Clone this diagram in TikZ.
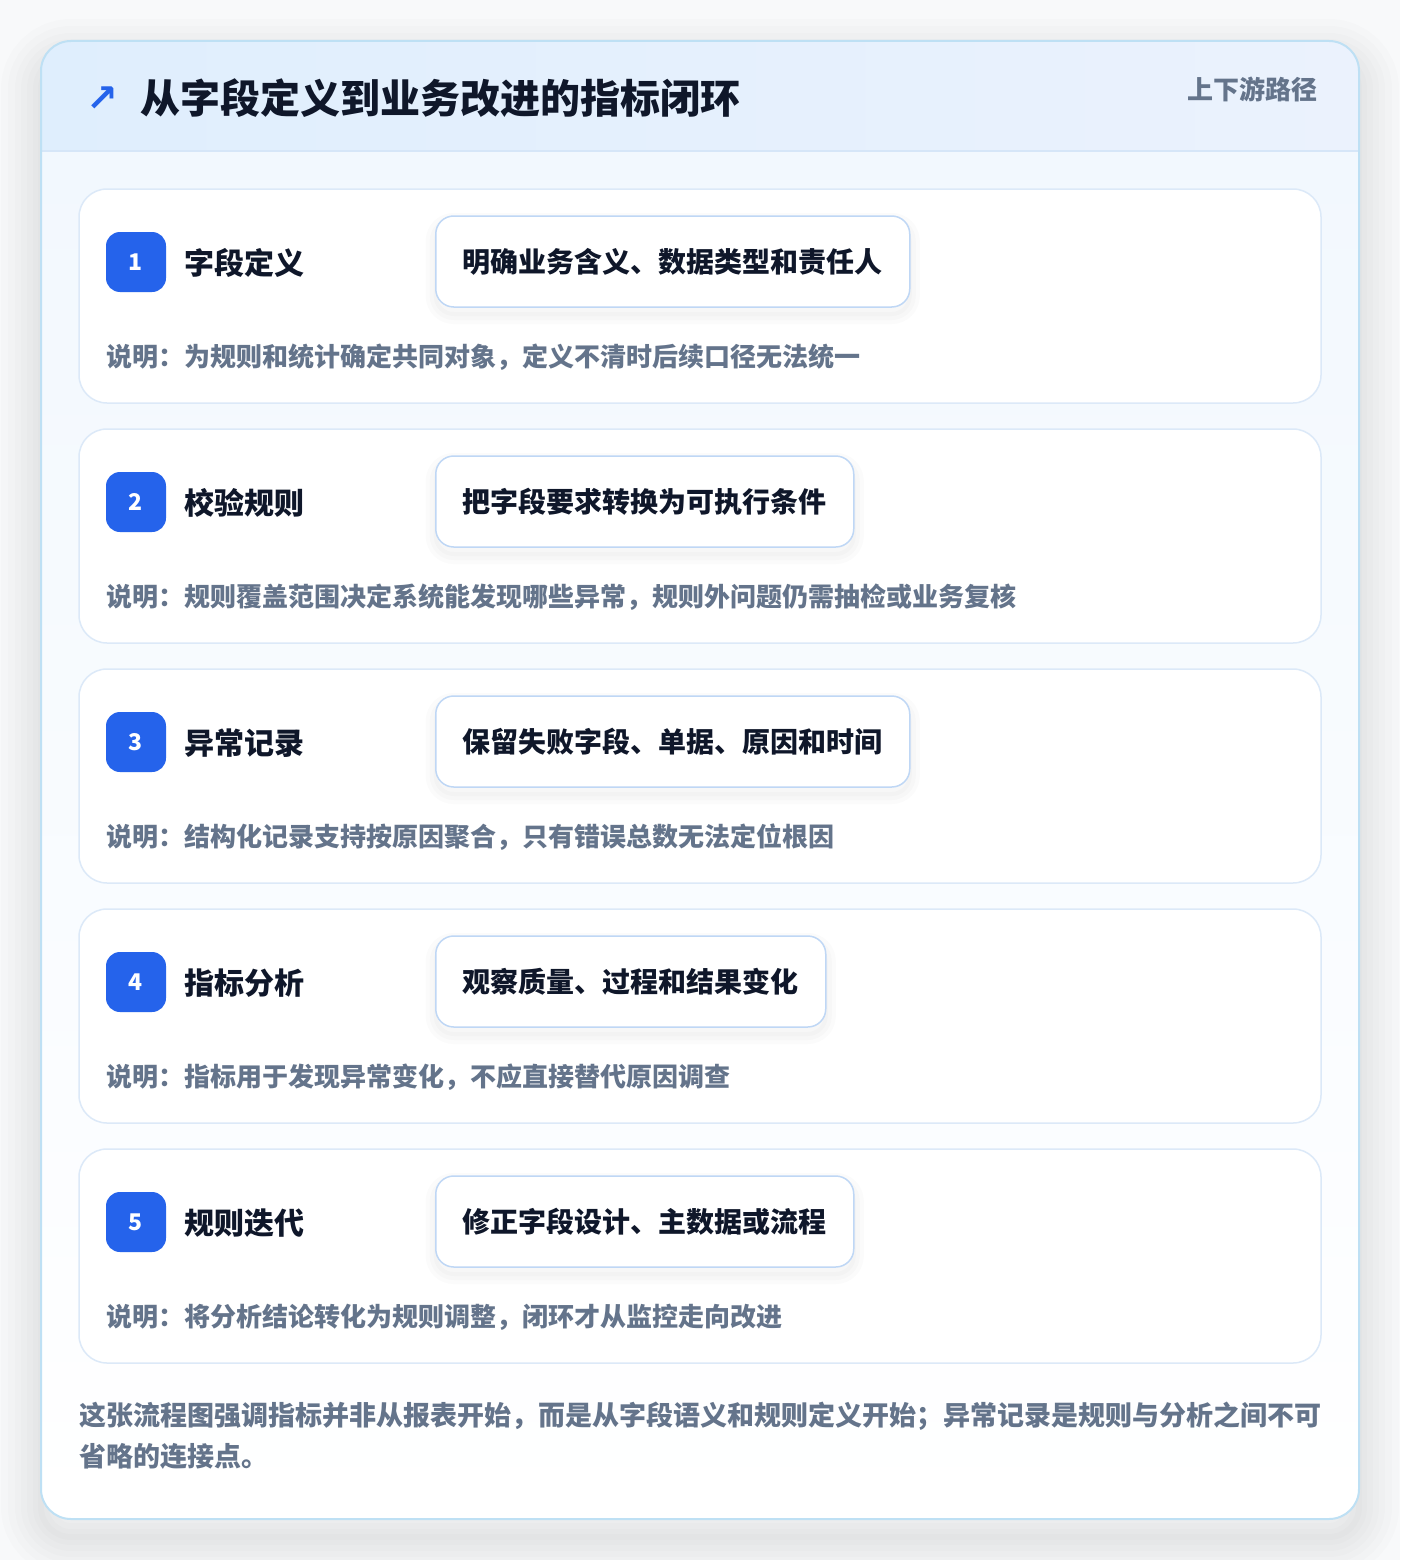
\documentclass[tikz,border=0pt]{standalone}
\usepackage{fontspec}
\setmainfont{Noto Sans CJK SC}
\newfontfamily\symfont{DejaVu Sans}

\definecolor{pagebg}{HTML}{F8F9FA}
\definecolor{accent}{HTML}{2563EB}
\definecolor{ink}{HTML}{0F172A}
\definecolor{muted}{HTML}{64748B}
\definecolor{frameline}{HTML}{BEE0F4}
\definecolor{headleft}{HTML}{DFEEFD}
\definecolor{headright}{HTML}{EBF2FD}
\definecolor{headsep}{HTML}{D6E6F8}
\definecolor{bodytop}{HTML}{F2F8FE}
\definecolor{cardline}{HTML}{DCE9F8}
\definecolor{pillline}{HTML}{BFD7F5}

\tikzset{
  shadowring/.style={preaction={draw=black, draw opacity=0.011, line width=#1,
    transform canvas={yshift=-18pt}}},
  frame/.style={fill=white, rounded corners=30, minimum width=1318, minimum height=1478,
    shadowring=80, shadowring=66, shadowring=52, shadowring=40, shadowring=28, shadowring=16, shadowring=6},
  card/.style={draw=cardline, line width=1.5, fill=white, rounded corners=28,
    minimum width=1242, minimum height=214},
  badge/.style={fill=accent, text=white, rounded corners=14, minimum size=60, inner sep=0,
    font=\fontsize{23}{26}\selectfont\bfseries},
  steptitle/.style={anchor=west, inner sep=0, text=ink, font=\fontsize{30}{36}\selectfont\bfseries},
  pill/.style={anchor=west, draw=pillline, line width=1.5, fill=white, rounded corners=18,
    minimum height=91, inner xsep=27, inner ysep=0, text=ink, font=\fontsize{28}{34}\selectfont\bfseries,
    preaction={draw=black, draw opacity=0.015, line width=20, transform canvas={yshift=-7pt}},
    preaction={draw=black, draw opacity=0.015, line width=12, transform canvas={yshift=-7pt}},
    preaction={draw=black, draw opacity=0.015, line width=4, transform canvas={yshift=-7pt}}},
  note/.style={anchor=west, inner sep=0, text=muted, font=\fontsize{26}{32}\selectfont\bfseries},
}

\begin{document}
\begin{tikzpicture}[x=1pt,y=1pt,yscale=-1]
\useasboundingbox (0,0) rectangle (1400,1560);

%Shape: Background
\fill[pagebg] (0,0) rectangle (1400,1560);
%Shape: Outer card
\node[frame] (panel) at (700,780) {};
\begin{scope}
\clip[rounded corners=30] (41,41) rectangle (1359,1519);
\fill[top color=bodytop, bottom color=white] (41,151) rectangle (1359,1519);
\fill[left color=headleft, right color=headright] (41,41) rectangle (1359,151);
\end{scope}
%Straight Lines: header separator
\draw[headsep, line width=1.5] (41,151) -- (1359,151);
\draw[frameline, line width=2, rounded corners=30] (41,41) rectangle (1359,1519);

% Text Node
\node[inner sep=0, text=accent, font=\fontsize{38}{44}\selectfont\symfont\bfseries] (icon) at (102,99) {↗};
% Text Node
\node[anchor=west, inner sep=0, text=ink, font=\fontsize{40}{48}\selectfont\bfseries] (title) at (140,98) {从字段定义到业务改进的指标闭环};
% Text Node
\node[anchor=east, inner sep=0, text=muted, font=\fontsize{26}{32}\selectfont\bfseries] (route) at (1318,89) {上下游路径};

%Shape: Card 1
\node[card] (c1) at (700,296) {};
\node[badge] (b1) at (136,262) {1};
\node[steptitle] (t1) at (184,263) {字段定义};
\node[pill] (p1) at (435,261.5) {明确业务含义、数据类型和责任人};
\node[note] (d1) at (106,357) {说明：为规则和统计确定共同对象，定义不清时后续口径无法统一};

%Shape: Card 2
\node[card] (c2) at (700,536) {};
\node[badge] (b2) at (136,502) {2};
\node[steptitle] (t2) at (184,503) {校验规则};
\node[pill] (p2) at (435,501.5) {把字段要求转换为可执行条件};
\node[note] (d2) at (106,597) {说明：规则覆盖范围决定系统能发现哪些异常，规则外问题仍需抽检或业务复核};

%Shape: Card 3
\node[card] (c3) at (700,776) {};
\node[badge] (b3) at (136,742) {3};
\node[steptitle] (t3) at (184,743) {异常记录};
\node[pill] (p3) at (435,741.5) {保留失败字段、单据、原因和时间};
\node[note] (d3) at (106,837) {说明：结构化记录支持按原因聚合，只有错误总数无法定位根因};

%Shape: Card 4
\node[card] (c4) at (700,1016) {};
\node[badge] (b4) at (136,982) {4};
\node[steptitle] (t4) at (184,983) {指标分析};
\node[pill] (p4) at (435,981.5) {观察质量、过程和结果变化};
\node[note] (d4) at (106,1077) {说明：指标用于发现异常变化，不应直接替代原因调查};

%Shape: Card 5
\node[card] (c5) at (700,1256) {};
\node[badge] (b5) at (136,1222) {5};
\node[steptitle] (t5) at (184,1223) {规则迭代};
\node[pill] (p5) at (435,1221.5) {修正字段设计、主数据或流程};
\node[note] (d5) at (106,1317) {说明：将分析结论转化为规则调整，闭环才从监控走向改进};

% Text Node
\node[anchor=north west, inner sep=0, align=left, text=muted, font=\fontsize{27}{41}\selectfont\bfseries] (summary) at (79,1402)
  {这张流程图强调指标并非从报表开始，而是从字段语义和规则定义开始；异常记录是规则与分析之间不可\\省略的连接点。};

\end{tikzpicture}
\end{document}
